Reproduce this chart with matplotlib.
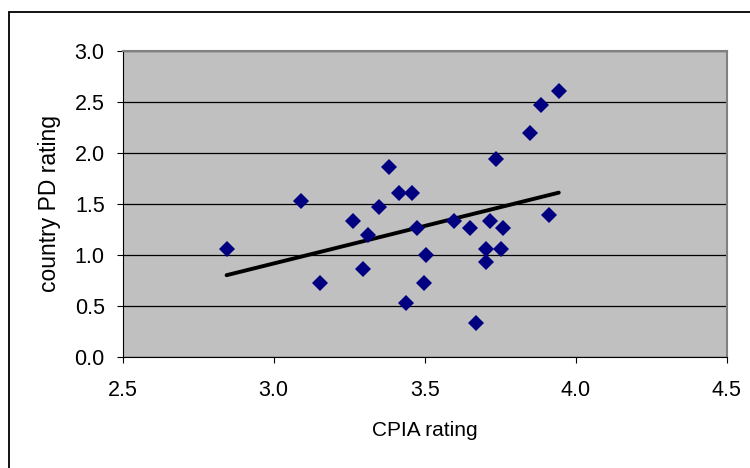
import matplotlib
matplotlib.use("Agg")
import matplotlib.pyplot as plt
from matplotlib.patches import Rectangle
import numpy as np

plt.rcParams['font.family'] = ['Liberation Sans', 'DejaVu Sans']

cpia = [2.844, 3.089, 3.154, 3.262, 3.295, 3.311, 3.348, 3.381, 3.414, 3.459,
        3.476, 3.439, 3.504, 3.498, 3.598, 3.651, 3.717, 3.758, 3.704, 3.752,
        3.704, 3.671, 3.737, 3.850, 3.884, 3.944, 3.911]
pd_rating = [1.054, 1.525, 0.720, 1.329, 0.858, 1.194, 1.469, 1.858, 1.603, 1.603,
             1.266, 0.524, 0.995, 0.720, 1.329, 1.266, 1.329, 1.266, 1.057, 1.057,
             0.933, 0.327, 1.937, 2.192, 2.467, 2.607, 1.388]
trend_x = [2.844, 3.944]
trend_y = [0.80, 1.61]
x_ticks = [2.5, 3.0, 3.5, 4.0, 4.5]
y_ticks = [0.0, 0.5, 1.0, 1.5, 2.0, 2.5, 3.0]
x_label = "CPIA rating"
y_label = "country PD rating"

fig = plt.figure(figsize=(7.5, 4.68), dpi=100)
fig.patch.set_facecolor('white')
fig.patches.append(Rectangle((8.7/750, -0.05), 1.2, 1 - 11.7/468 + 0.05,
                             transform=fig.transFigure, fill=False,
                             edgecolor='black', linewidth=1.3, zorder=0))

ax = fig.add_axes([122.7/750, 1 - 356.7/468, (726.7-122.7)/750, (356.7-51)/468])
ax.set_facecolor('#C0C0C0')
ax.set_xlim(2.5, 4.5)
ax.set_ylim(0, 3)
ax.set_xticks(x_ticks)
ax.set_yticks(y_ticks)
ax.set_xticklabels([f"{v:.1f}" for v in x_ticks])
ax.set_yticklabels([f"{v:.1f}" for v in y_ticks])
ax.tick_params(direction='out', length=4, width=0.8, labelsize=15.5, colors='black')
ax.tick_params(axis='x', pad=13)
ax.tick_params(axis='y', pad=9)
ax.yaxis.grid(True, color='black', linewidth=0.9)
ax.set_axisbelow(True)
for s in ['top', 'right']:
    ax.spines[s].set_color('#808080')
    ax.spines[s].set_linewidth(1.5)
for s in ['left', 'bottom']:
    ax.spines[s].set_color('black')
    ax.spines[s].set_linewidth(0.8)

ax.plot(trend_x, trend_y, color='black', linewidth=2.8, zorder=2, solid_capstyle='round')
ax.plot(cpia, pd_rating, linestyle='none', marker='D', markersize=8.5, color='#000080',
        markeredgewidth=0, zorder=3)

ax.set_xlabel(x_label, fontsize=15, labelpad=14)
ax.set_ylabel(y_label, fontsize=16.5, labelpad=10)

fig.savefig('out.png', dpi=100)
